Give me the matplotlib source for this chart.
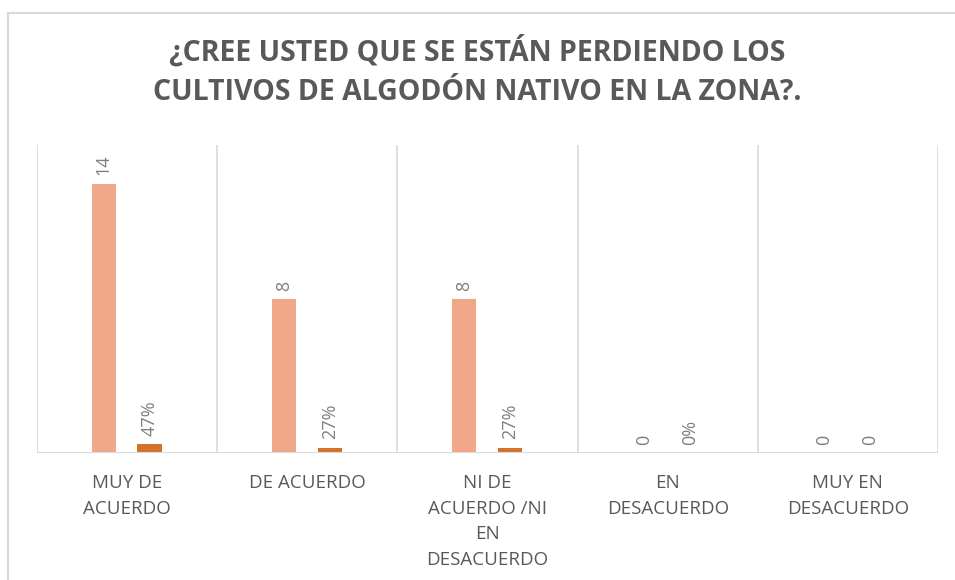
import matplotlib.pyplot as plt
from matplotlib.patches import Rectangle
import numpy as np

categories = ['MUY DE\nACUERDO', 'DE ACUERDO', 'NI DE\nACUERDO /NI\nEN\nDESACUERDO',
              'EN\nDESACUERDO', 'MUY EN\nDESACUERDO']
counts = [14, 8, 8, 0, 0]
shares = [0.47, 0.27, 0.27, 0, 0]
share_labels = ['47%', '27%', '27%', '0%', '0']

title = '¿CREE USTED QUE SE ESTÁN PERDIENDO LOS\nCULTIVOS DE ALGODÓN NATIVO EN LA ZONA?.'

plt.rcParams['font.family'] = ['Open Sans', 'DejaVu Sans']
grey = '#595959'
grid = '#D9D9D9'

fig = plt.figure(figsize=(9.55, 5.8), dpi=100)
fig.patches.append(Rectangle((8 / 955, -0.01), 1.0, 1 - 13 / 580 + 0.01,
                             transform=fig.transFigure, fill=False,
                             edgecolor=grid, lw=1.5))
ax = fig.add_axes([37 / 955, 1 - 453 / 580, 901 / 955, 308 / 580])

x = np.arange(len(categories))
w = 0.135
b1 = ax.bar(x - 0.13, counts, w, color='#F0A889')
b2 = ax.bar(x + 0.125, shares, w, color='#D4712B')

for rect, lab in zip(b1, counts):
    ax.annotate(str(lab), (rect.get_x() + rect.get_width() / 2, rect.get_height()),
                xytext=(0, 6), textcoords='offset points', rotation=90,
                ha='center', va='bottom', fontsize=13, color='#7F7F7F')
for rect, lab in zip(b2, share_labels):
    ax.annotate(lab, (rect.get_x() + rect.get_width() / 2, rect.get_height()),
                xytext=(0, 6), textcoords='offset points', rotation=90,
                ha='center', va='bottom', fontsize=13, color='#7F7F7F')

ax.set_xlim(-0.5, len(categories) - 0.5)
ax.set_ylim(0, 16)
for b in np.arange(-0.5, len(categories), 1.0):
    ax.axvline(b, color=grid, lw=1.2, zorder=0)
ax.axhline(0, color=grid, lw=1.5)

for s in ax.spines.values():
    s.set_visible(False)
ax.set_yticks([])
ax.set_xticks(x)
ax.set_xticklabels(categories, fontsize=13.5, color=grey, linespacing=1.55)
ax.tick_params(axis='x', length=0, pad=15)

fig.text(0.5, 1 - 71 / 580, title, ha='center', va='center', fontsize=20.5,
         fontweight='bold', color=grey, linespacing=1.5)

fig.savefig('out.png', dpi=100)
